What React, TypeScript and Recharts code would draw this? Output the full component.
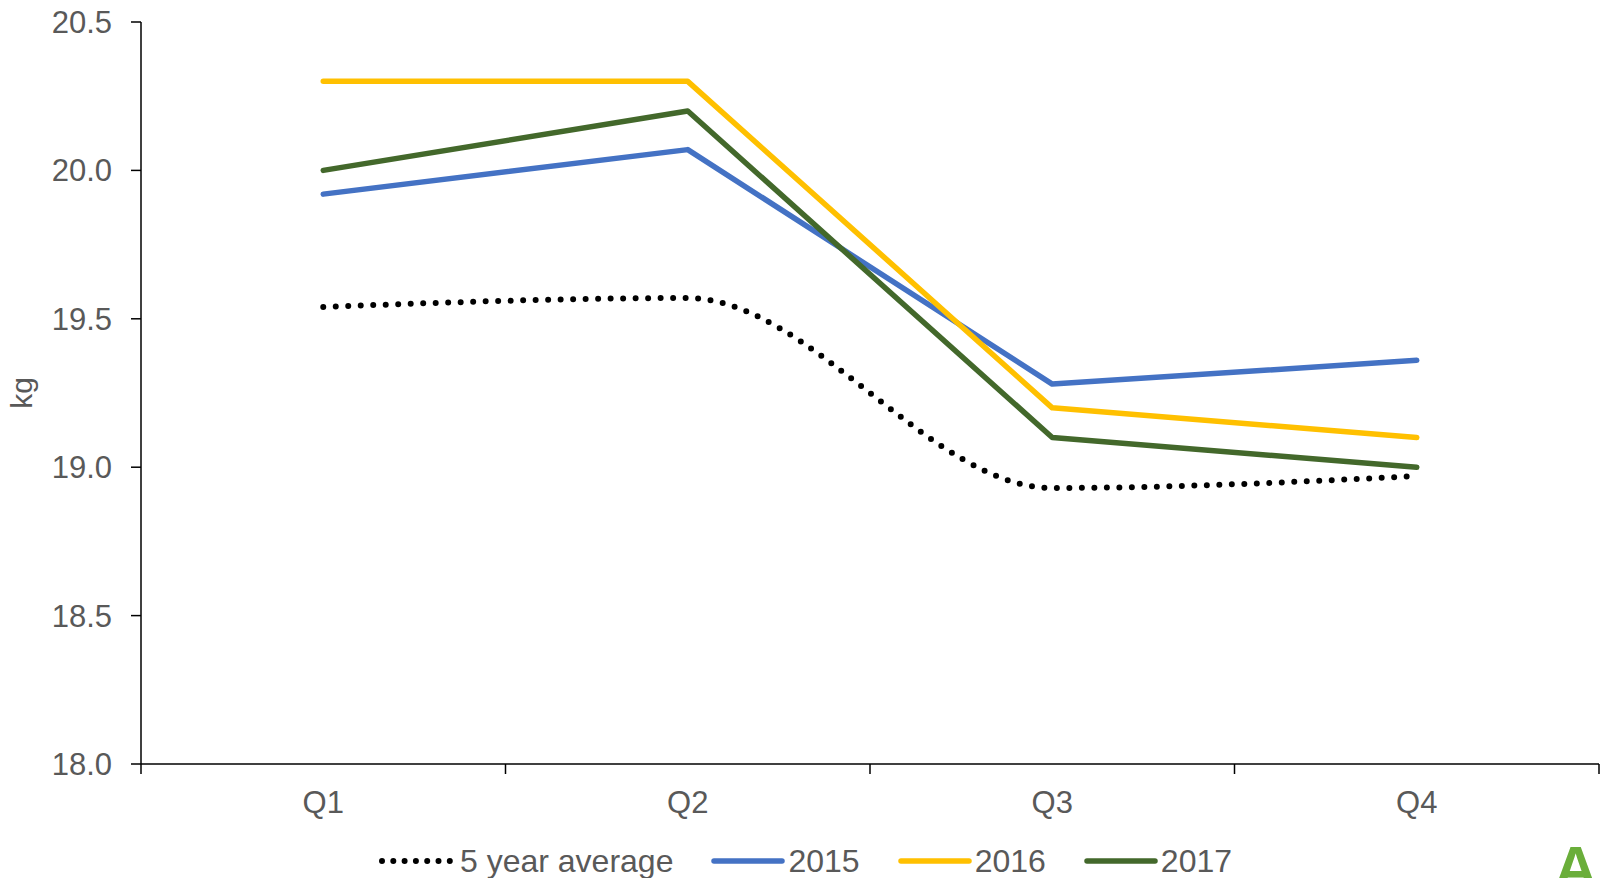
import React from 'react';
import { LineChart, Line, XAxis, YAxis, Legend } from 'recharts';

// quarterly values, kg
const QUARTERS = ['Q1', 'Q2', 'Q3', 'Q4'];
const AVG_5Y = [19.54, 19.57, 18.93, 18.97];
const Y2015 = [19.92, 20.07, 19.28, 19.36];
const Y2016 = [20.3, 20.3, 19.2, 19.1];
const Y2017 = [20.0, 20.2, 19.1, 19.0];
const Y_TICKS = [18, 18.5, 19, 19.5, 20, 20.5];

const SERIES = [
  { key: 'avg', name: '5 year average', color: '#000000', dotted: true },
  { key: 'y2015', name: '2015', color: '#4472C4', dotted: false },
  { key: 'y2016', name: '2016', color: '#FFC000', dotted: false },
  { key: 'y2017', name: '2017', color: '#43682B', dotted: false },
];

const W = 1600;
const H = 878;
const Y_AXIS_W = 141;
const RIGHT = 1;
const TICK_SIZE = 10;
const TICK_MARGIN = 17;
const TEXT = '#595959';
const FONT = '"Liberation Sans", Arial, sans-serif';

const data = QUARTERS.map((q, i) => ({
  q,
  avg: AVG_5Y[i],
  y2015: Y2015[i],
  y2016: Y2016[i],
  y2017: Y2017[i],
}));

const QuarterTick = (props: any) => {
  const { x, y, payload, index } = props;
  const fallback = (W - Y_AXIS_W - RIGHT) / QUARTERS.length / 2;
  const half = payload && payload.offset > 0 ? payload.offset : fallback;
  const axisY = y - TICK_SIZE - TICK_MARGIN;
  return (
    <g>
      <line x1={x - half} x2={x - half} y1={axisY} y2={axisY + TICK_SIZE} stroke="#000" strokeWidth={1.5} />
      {index === QUARTERS.length - 1 && (
        <line x1={x + half} x2={x + half} y1={axisY} y2={axisY + TICK_SIZE} stroke="#000" strokeWidth={1.5} />
      )}
      <text x={x} y={y} dy="0.71em" textAnchor="middle" fill={TEXT} fontSize={31} fontFamily={FONT}>
        {payload.value}
      </text>
    </g>
  );
};

const renderLegend = () => (
  <div
    style={{
      display: 'flex',
      justifyContent: 'center',
      gap: 38,
      height: 40,
      paddingTop: 6,
      paddingLeft: 12,
      boxSizing: 'border-box',
      fontFamily: FONT,
    }}
  >
    {SERIES.map((s) => (
      <div key={s.key} style={{ display: 'flex', alignItems: 'center' }}>
        <svg width={74} height={10}>
          <line
            x1={3}
            x2={71}
            y1={5}
            y2={5}
            stroke={s.color}
            strokeWidth={s.dotted ? 6 : 5.5}
            strokeLinecap="round"
            strokeDasharray={s.dotted ? '0 11.3' : undefined}
          />
        </svg>
        <span style={{ marginLeft: s.dotted ? 7 : 3, fontSize: 32, color: TEXT, whiteSpace: 'nowrap' }}>{s.name}</span>
      </div>
    ))}
  </div>
);

export default function App() {
  return (
    <div
      style={{
        position: 'absolute',
        left: 0,
        top: 0,
        width: W,
        height: H,
        overflow: 'hidden',
        background: '#fff',
        fontFamily: FONT,
      }}
    >
      <LineChart width={W} height={H} data={data} margin={{ top: 22, right: RIGHT, left: 0, bottom: 0 }}>
        <XAxis
          dataKey="q"
          scale="band"
          height={74}
          axisLine={{ stroke: '#000', strokeWidth: 1.5 }}
          tickLine={false}
          tickSize={TICK_SIZE}
          tickMargin={TICK_MARGIN}
          tick={<QuarterTick />}
          interval={0}
        />
        <YAxis
          width={Y_AXIS_W}
          domain={[18, 20.5]}
          ticks={Y_TICKS}
          allowDataOverflow
          tickFormatter={(v: number) => v.toFixed(1)}
          tickSize={TICK_SIZE}
          tickMargin={19}
          axisLine={{ stroke: '#000', strokeWidth: 1.5 }}
          tickLine={{ stroke: '#000', strokeWidth: 1.5 }}
          tick={{ fill: TEXT, fontSize: 31, fontFamily: FONT }}
          label={({ viewBox }: any) => (
            <text
              x={21}
              y={viewBox.y + viewBox.height / 2}
              transform={`rotate(-90, 21, ${viewBox.y + viewBox.height / 2})`}
              textAnchor="middle"
              dominantBaseline="central"
              fill={TEXT}
              fontSize={30}
              fontFamily={FONT}
            >
              kg
            </text>
          )}
        />
        <Legend verticalAlign="bottom" height={40} content={renderLegend} />
        <Line
          type="monotone"
          dataKey="avg"
          name="5 year average"
          stroke="#000"
          strokeWidth={6}
          strokeDasharray="0 12.5"
          strokeLinecap="round"
          dot={false}
          activeDot={false}
          isAnimationActive={false}
        />
        {SERIES.filter((s) => !s.dotted).map((s) => (
          <Line
            key={s.key}
            type="linear"
            dataKey={s.key}
            name={s.name}
            stroke={s.color}
            strokeWidth={5.5}
            strokeLinecap="round"
            strokeLinejoin="round"
            dot={false}
            activeDot={false}
            isAnimationActive={false}
          />
        ))}
      </LineChart>
      <div
        style={{
          position: 'absolute',
          left: 1554,
          top: 838,
          fontSize: 60,
          lineHeight: 1,
          fontWeight: 'bold',
          color: '#6AAE3A',
          fontFamily: FONT,
        }}
      >
        A
      </div>
    </div>
  );
}
